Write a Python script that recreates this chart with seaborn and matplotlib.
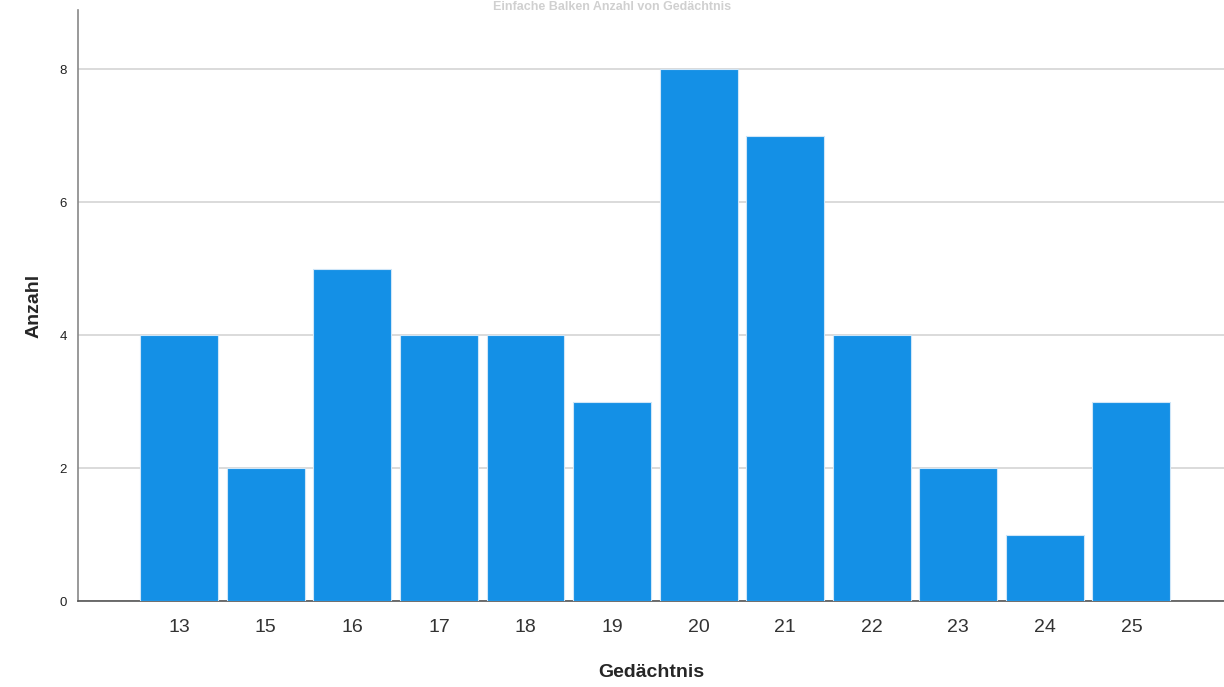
import pandas as pd
import matplotlib.pyplot as plt
import seaborn as sns

gedaechtnis = ["13", "15", "16", "17", "18", "19", "20", "21", "22", "23", "24", "25"]
anzahl = [4, 2, 5, 4, 4, 3, 8, 7, 4, 2, 1, 3]

df = pd.DataFrame({"Gedächtnis": gedaechtnis, "Anzahl": anzahl})

sns.set_style("white")
plt.rcParams["font.family"] = ["Liberation Sans", "DejaVu Sans"]

fig = plt.figure(figsize=(12.24, 6.87), dpi=100)
ax = fig.add_axes([78 / 1224, 86 / 687, 1146 / 1224, 591 / 687])

sns.barplot(data=df, x="Gedächtnis", y="Anzahl", order=gedaechtnis,
            color="#1490E6", saturation=1, width=0.9,
            edgecolor="#cfe6f8", linewidth=0.8, ax=ax, zorder=3)

ax.set_xlim(-1.17, 12.07)
ax.set_ylim(0, 8.89)
ax.set_yticks([0, 2, 4, 6, 8])
ax.yaxis.grid(True, color="#d4d4d4", linewidth=1.2, zorder=0)
ax.set_axisbelow(True)

ax.tick_params(axis="y", length=0, labelsize=9.5, pad=8, colors="#222222")
ax.tick_params(axis="x", length=0, labelsize=14, pad=13, colors="#333333")

ax.set_xlabel("Gedächtnis", fontsize=14, fontweight="bold", labelpad=20)
ax.set_ylabel("Anzahl", fontsize=14, fontweight="bold", labelpad=12)

for side in ["top", "right"]:
    ax.spines[side].set_visible(False)
ax.spines["left"].set_color("#888888")
ax.spines["bottom"].set_color("#555555")
ax.spines["left"].set_linewidth(1.2)
ax.spines["bottom"].set_linewidth(1.2)

fig.text(0.5, 0.999, "Einfache Balken Anzahl von Gedächtnis", ha="center",
         va="top", fontsize=9, fontweight="bold", color="#d0d0d0")

fig.savefig("out.png", dpi=100)
